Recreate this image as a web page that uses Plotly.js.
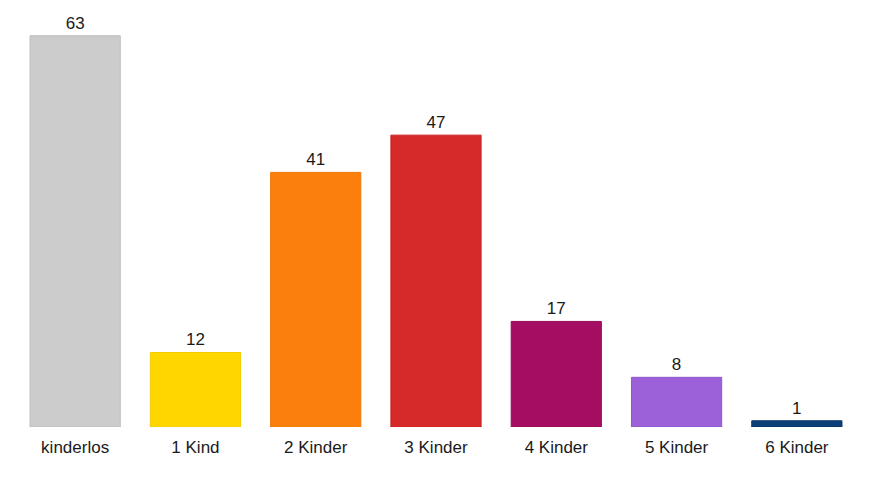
<!DOCTYPE html>
<html><head><meta charset="utf-8">
<script src="https://cdn.plot.ly/plotly-3.0.1.min.js"></script>
<style>html,body{margin:0;padding:0;background:#fff}#c{width:873px;height:481px}</style>
</head><body><div id="c"></div>
<script>
var categories = ["kinderlos","1 Kind","2 Kinder","3 Kinder","4 Kinder","5 Kinder","6 Kinder"];
var values = [63,12,41,47,17,8,1];
var colors = ["#cccccc","#ffd600","#fb7f0c","#d62929","#a50d62","#9c60d8","#0c3f78"];
var lineColors = ["#bdbdbd","#f2cc00","#f07808","#cc2424","#990b5b","#9058cc","#0a3566"];
var trace = {
  type:"bar", x:categories, y:values,
  marker:{color:colors, line:{color:lineColors, width:1}},
  text:values.map(String), textposition:"outside", cliponaxis:false,
  textfont:{family:"Liberation Sans, Arial, sans-serif", size:17, color:"#1a1a1a"},
  width:0.75, hoverinfo:"none"
};
var layout = {
  width:873, height:481,
  margin:{l:15, r:16, t:1, b:54},
  paper_bgcolor:"#fff", plot_bgcolor:"#fff",
  showlegend:false,
  font:{family:"Liberation Sans, Arial, sans-serif", size:17, color:"#1a1a1a"},
  xaxis:{showgrid:false, zeroline:false, showline:false, ticks:"", tickfont:{size:17, color:"#1a1a1a"}, ticklabelstandoff:8},
  yaxis:{range:[0,68.6], showgrid:false, zeroline:false, showline:false, showticklabels:false, ticks:""}
};
Plotly.newPlot("c",[trace],layout,{staticPlot:true});
</script></body></html>
